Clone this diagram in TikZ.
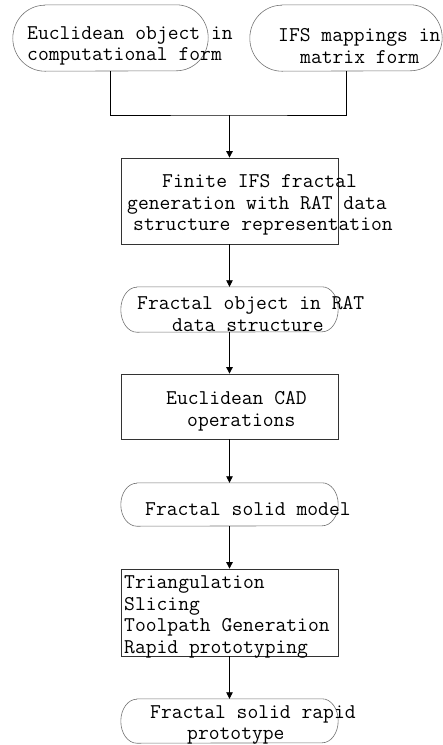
\documentclass[tikz,border=0pt]{standalone}
\usepackage{fontspec}
\usetikzlibrary{arrows.meta}
\newcommand\stadiumoutline[3]{%
  \draw[termline] ([xshift=#2]#1.north west) -- ([xshift=-#2]#1.north east)
    arc[start angle=90,end angle=-90,x radius=#2,y radius=#3]
    -- ([xshift=#2]#1.south west)
    arc[start angle=270,end angle=90,x radius=#2,y radius=#3] -- cycle;}
\tikzset{
  termshape/.style={rectangle,draw=none,inner sep=0pt},
  termline/.style={draw=black!55,line width=0.6pt},
  procbox/.style={rectangle,draw=black!80,line width=0.8pt,inner sep=0pt},
  txt/.style={font=\ttfamily\fontsize{21pt}{21.7pt}\selectfont,inner sep=0pt,align=left,anchor=west},
  flow/.style={draw=black,line width=0.8pt},
  arr/.style={flow,-{Triangle[width=6.5pt,length=6.5pt]}}
}
\begin{document}
\begin{tikzpicture}[x=1pt,y=1pt]
\useasboundingbox (0,0) rectangle (443,-745);
% shapes
\node[termshape,minimum width=195pt,minimum height=66pt] (t1) at (110.5,-38) {};
\node[termshape,minimum width=192pt,minimum height=66pt] (t2) at (346,-38) {};
\node[procbox,minimum width=217pt,minimum height=86pt] (b1) at (229.5,-201) {};
\node[termshape,minimum width=217pt,minimum height=45pt] (t3) at (229.5,-309.5) {};
\node[procbox,minimum width=217pt,minimum height=65pt] (b2) at (229.5,-406.5) {};
\node[termshape,minimum width=217pt,minimum height=43pt] (t4) at (229.5,-504.5) {};
\node[procbox,minimum width=217pt,minimum height=87pt] (b3) at (229.5,-612.5) {};
\node[termshape,minimum width=217pt,minimum height=44pt] (t5) at (229.5,-721) {};
\stadiumoutline{t1}{32pt}{33pt}
\stadiumoutline{t2}{32pt}{33pt}
\stadiumoutline{t3}{16pt}{22.5pt}
\stadiumoutline{t4}{16pt}{21.5pt}
\stadiumoutline{t5}{16pt}{22pt}
% texts
\node[txt] (t1txt) at (27,-46) {Euclidean object in\\computational form};
\node[txt] (t2txt) at (278,-46) {IFS mappings in\\\hspace*{22pt}matrix form};
\node[txt] (b1txt) at (127,-205) {\hspace*{35pt}Finite IFS fractal\\generation with RAT data\\\hspace*{6pt}structure representation};
\node[txt] (t3txt) at (137,-314) {Fractal object in RAT\\\hspace*{35pt}data structure};
\node[txt] (b2txt) at (166,-411) {Euclidean CAD\\\hspace*{21pt}operations};
\node[txt] (t4txt) at (145,-509) {Fractal solid model};
\node[txt] (b3txt) at (124,-617) {Triangulation\\Slicing\\Toolpath Generation\\Rapid prototyping};
\node[txt] (t5txt) at (150,-725) {Fractal solid rapid\\\hspace*{37pt}prototype};
% connectors
\coordinate (j) at (229.5,-115);
\draw[flow] (t1.south) |- (j) -| (t2.south);
\draw[arr] (j) -- (b1.north);
\draw[arr] (b1.south) -- (t3.north);
\draw[arr] (t3.south) -- (b2.north);
\draw[arr] (b2.south) -- (t4.north);
\draw[arr] (t4.south) -- (b3.north);
\draw[arr] (b3.south) -- (t5.north);
\end{tikzpicture}
\end{document}
